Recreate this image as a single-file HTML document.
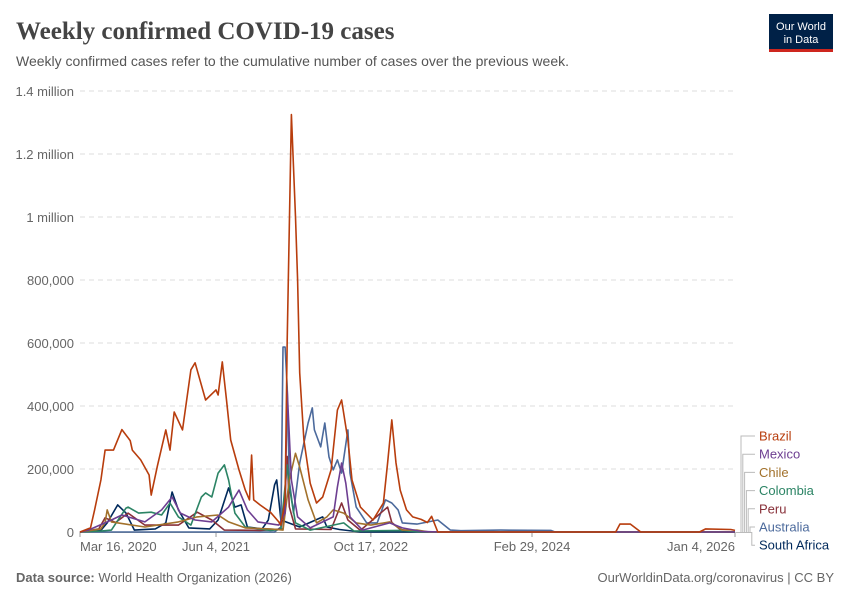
<!DOCTYPE html>
<html><head><meta charset="utf-8"><style>
body{margin:0;background:#fff;font-family:"Liberation Sans",sans-serif;}
#wrap{position:relative;width:850px;height:600px;overflow:hidden;}
</style></head><body>
<div id="wrap">
<svg id="chart" width="850" height="600" xmlns="http://www.w3.org/2000/svg">
<text x="16" y="39" font-family="Liberation Serif,serif" font-size="25" font-weight="bold" fill="#444">Weekly confirmed COVID-19 cases</text>
<text x="16" y="66" font-size="14" fill="#555">Weekly confirmed cases refer to the cumulative number of cases over the previous week.</text>
<g>
<rect x="769" y="14" width="64" height="38" fill="#002147"/>
<rect x="769" y="49" width="64" height="3" fill="#ce261e"/>
<text x="801" y="30" font-size="11" fill="#fff" text-anchor="middle">Our World</text>
<text x="801" y="43" font-size="11" fill="#fff" text-anchor="middle">in Data</text>
</g>
<g id="grid"></g><g id="series"></g><g id="legend"></g>
<text x="16" y="582" font-size="13" fill="#666"><tspan font-weight="bold">Data source:</tspan> World Health Organization (2026)</text>
<text x="834" y="582" font-size="13" fill="#666" text-anchor="end">OurWorldinData.org/coronavirus | CC BY</text>
</svg></div>
<script>
// values in thousands of cases
const yTicks=[0,200,400,600,800,1000,1200,1400];
const yTickLabels=["0","200,000","400,000","600,000","800,000","1 million","1.2 million","1.4 million"];
const xTickWeeks=[0,65,139,216,313];
const xTickLabels=["Mar 16, 2020","Jun 4, 2021","Oct 17, 2022","Feb 29, 2024","Jan 4, 2026"];
const seriesNames=["Brazil","Mexico","Chile","Colombia","Peru","Australia","South Africa"];
const seriesColors=["#b83d0d","#6d3e91","#a2712b","#2c8465","#883039","#4c6a9c","#00295b"];
const brazilWeeks=[0,5,7,10,12,16,20,24,25,29,33,34,37,41,43,45,49,53,55,60,65,66,68,70,72,76,79,81,82,83,86,91,95,96,98,99,101,103,104,105,107,110,113,116,120,123,125,128,130,134,140,145,147,149,151,153,156,159,163,166,168,171,256,258,263,268,296,299,311,313];
const brazilValues=[0,13,70,165,260,260,325,290,260,229,181,117,210,324,260,381,324,515,537,419,451,435,540,419,292,197,133,102,244,102,86,63,32,22,102,610,1325,1000,800,505,292,155,92,111,197,387,419,292,165,79,38,92,219,356,219,133,70,48,40,30,50,0,0,25,25,0,0,10,8,5];
const australiaWeeks=[0,93,96,97,98,99,100,102,105,109,111,112,115,117,119,121,123,125,128,129,132,137,142,146,149,152,154,161,171,177,182,201,225,227,313];
const australiaValues=[0,0,16,587,587,460,165,60,219,346,394,324,270,346,238,197,229,187,324,187,79,29,29,102,92,70,29,25,38,6,4,6,5,0,0];
const mexicoWeeks=[0,4,15,20,31,39,44,48,55,63,71,76,80,85,95,98,99,101,104,110,121,123,125,127,129,135,148,154,163,172,313];
const mexicoValues=[0,6,38,54,32,70,111,60,38,32,79,133,70,32,22,60,450,165,48,13,48,143,219,155,48,6,29,13,2,0,0];
const colombiaWeeks=[0,10,15,22,23,28,34,39,43,47,53,58,60,63,66,69,71,74,79,91,96,97,99,100,103,110,126,131,153,163,313];
const colombiaValues=[0,3,6,76,79,60,63,54,92,48,22,111,124,111,187,213,165,60,16,5,8,79,213,143,29,6,29,3,5,0,0];
const chileWeeks=[0,10,12,13,15,31,47,56,66,71,79,91,97,100,103,105,109,113,118,121,126,132,139,148,154,161,167,313];
const chileValues=[0,10,30,70,32,16,32,48,54,32,13,10,6,165,250,206,102,29,48,70,60,29,22,32,6,6,0,0];
const peruWeeks=[0,9,12,17,23,31,47,56,63,69,86,97,99,100,103,120,125,128,134,147,149,153,163,313];
const peruValues=[0,10,45,30,60,22,22,63,38,6,5,10,240,80,10,8,92,38,5,79,30,8,0,0];
const safricaWeeks=[0,10,13,18,22,26,36,41,44,47,52,62,66,71,74,77,80,87,90,93,94,96,105,116,118,124,134,313];
const safricaValues=[0,5,29,86,60,6,10,29,127,70,13,10,38,140,79,86,16,10,38,150,165,38,16,48,16,8,0,0];

const X0=80,X1=735,Y0=532,Y1=91,WMAX=313,VMAX=1400;
const xS=w=>X0+(X1-X0)*w/WMAX;
const yS=v=>Y0-(Y0-Y1)*v/VMAX;
const NS="http://www.w3.org/2000/svg";
const mk=(t,a,p)=>{const e=document.createElementNS(NS,t);for(const k in a)e.setAttribute(k,a[k]);p.appendChild(e);return e;};
const grid=document.getElementById('grid');
yTicks.forEach((v,i)=>{
  if(i>0){const l=mk('line',{x1:X0,x2:X1,y1:yS(v),y2:yS(v),stroke:'#ddd','stroke-dasharray':'5,4'},grid);
  
  }
  const t=mk('text',{x:74,y:yS(v)+5,'font-size':13,fill:'#666','text-anchor':'end'},grid);
  t.textContent=yTickLabels[i];
  
  
});
const ax=mk('line',{x1:X0,x2:X1,y1:Y0+0.5,y2:Y0+0.5,stroke:'#999'},grid);


xTickWeeks.forEach((w,i)=>{
  const tk=mk('line',{x1:xS(w),x2:xS(w),y1:Y0,y2:Y0+5,stroke:'#999'},grid);
  
  
  const anchor=i==0?'start':(i==xTickWeeks.length-1?'end':'middle');
  const t=mk('text',{x:xS(w),y:551,'font-size':13,fill:'#666','text-anchor':anchor},grid);
  t.textContent=xTickLabels[i];
  
  
});
const data=[[brazilWeeks,brazilValues],[mexicoWeeks,mexicoValues],[chileWeeks,chileValues],[colombiaWeeks,colombiaValues],[peruWeeks,peruValues],[australiaWeeks,australiaValues],[safricaWeeks,safricaValues]];
const sg=document.getElementById('series');
for(let i=data.length-1;i>=0;i--){
  const [ws,vs]=data[i];
  const d=ws.map((w,j)=>(j?'L':'M')+xS(w).toFixed(1)+','+yS(vs[j]).toFixed(1)).join('');
  const p=mk('path',{d:d,fill:'none',stroke:seriesColors[i],'stroke-width':1.6,'stroke-linejoin':'round'},sg);
  
  
}
const lg=document.getElementById('legend');
seriesNames.forEach((n,i)=>{
  const ly=436+i*18.2;
  const vx=741+i*1.8;
  mk('path',{d:`M736,532.5H${vx}V${ly}H755`,fill:'none',stroke:'#bbb','stroke-width':1},lg);
  const t=mk('text',{x:759,y:ly+4.5,'font-size':13,fill:seriesColors[i]},lg);
  t.textContent=n;
  
  
});
</script>
</body></html>
